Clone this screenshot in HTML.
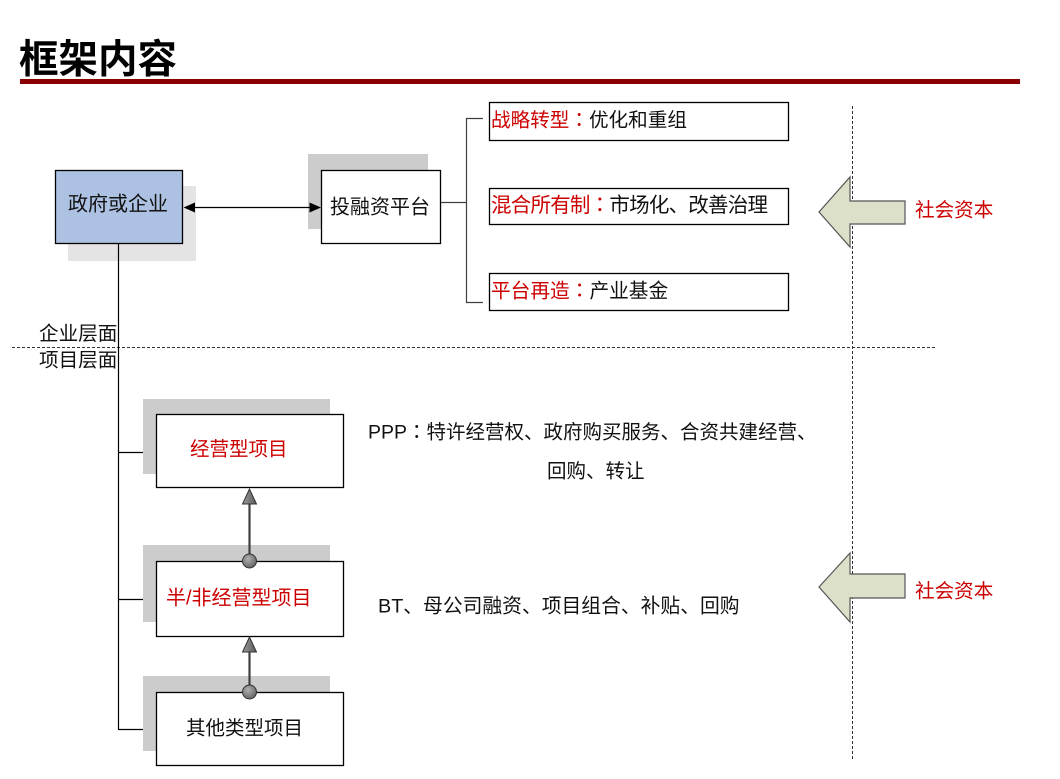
<!DOCTYPE html>
<html>
<head>
<meta charset="utf-8">
<style>
  html, body { margin: 0; padding: 0; background: #ffffff; }
  body { width: 1060px; height: 779px; overflow: hidden; }
  svg { display: block; }
  text { font-family: "Liberation Sans", "Noto Sans CJK SC", "WenQuanYi Zen Hei", sans-serif; }
  .cc { font-family: "Noto Sans CJK JP", "Noto Sans CJK TC", sans-serif; }
</style>
</head>
<body>
<svg width="1060" height="779" viewBox="0 0 1060 779" xmlns="http://www.w3.org/2000/svg">
  <defs>
    <linearGradient id="gh" x1="0" y1="0" x2="1" y2="0">
      <stop offset="0" stop-color="#9a9a9a"/>
      <stop offset="1" stop-color="#5a5a5a"/>
    </linearGradient>
    <radialGradient id="gc" cx="0.4" cy="0.35" r="0.7">
      <stop offset="0" stop-color="#b0b0b0"/>
      <stop offset="1" stop-color="#606060"/>
    </radialGradient>
  </defs>

  <!-- Title -->
  <text x="19" y="73" font-size="39.5" font-weight="bold" fill="#000">框架内容</text>
  <rect x="20" y="79" width="1000" height="5" fill="#8b0000"/>

  <!-- Top left box: 政府或企业 -->
  <rect x="68" y="186" width="128" height="75" fill="#e4e4e4"/>
  <rect x="55.5" y="170.5" width="127" height="73" fill="#adc2e2" stroke="#000" stroke-width="1.3"/>
  <text x="68" y="210.6" font-size="20" fill="#111">政府或企业</text>

  <!-- 投融资平台 -->
  <rect x="308" y="154" width="120" height="75" fill="#cccccc"/>
  <rect x="321.5" y="170.5" width="119" height="73" fill="#ffffff" stroke="#000" stroke-width="1.3"/>
  <text x="330" y="213.6" font-size="20" fill="#111">投融资平台</text>

  <!-- Double arrow -->
  <line x1="194" y1="207.5" x2="310" y2="207.5" stroke="#000" stroke-width="1.2"/>
  <polygon points="183.5,207.5 195,202.5 195,212.5" fill="#000"/>
  <polygon points="321,207.5 309.5,202.5 309.5,212.5" fill="#000"/>

  <!-- Bracket -->
  <path d="M441 202.5 H466.5 M483 118.5 H466.5 V302.5 H483" fill="none" stroke="#404040" stroke-width="1.2"/>

  <!-- Right boxes -->
  <rect x="489.5" y="102.5" width="299" height="38" fill="#fff" stroke="#000" stroke-width="1.3"/>
  <text x="491" y="126.6" font-size="19.6"><tspan fill="#cc0000">战略转型</tspan><tspan class="cc" fill="#cc0000">：</tspan><tspan fill="#111">优化和重组</tspan></text>

  <rect x="489.5" y="188.5" width="299" height="36" fill="#fff" stroke="#000" stroke-width="1.3"/>
  <text x="491" y="212" font-size="20.5" textLength="277" lengthAdjust="spacing"><tspan fill="#cc0000">混合所有制</tspan><tspan class="cc" fill="#cc0000">：</tspan><tspan fill="#111">市场化、改善治理</tspan></text>

  <rect x="489.5" y="273.5" width="299" height="37" fill="#fff" stroke="#000" stroke-width="1.3"/>
  <text x="491" y="297.6" font-size="19.7"><tspan fill="#cc0000">平台再造</tspan><tspan class="cc" fill="#cc0000">：</tspan><tspan fill="#111">产业基金</tspan></text>

  <!-- Dashed separators -->
  <line x1="12" y1="347.5" x2="935" y2="347.5" stroke="#333" stroke-width="1" stroke-dasharray="3,2"/>
  <line x1="852.5" y1="106" x2="852.5" y2="759" stroke="#333" stroke-width="1" stroke-dasharray="3,2"/>

  <!-- Big arrows 社会资本 -->
  <polygon points="819,212 850,177 850,201 905,201 905,224 850,224 850,247" fill="#dde0c9" stroke="#555" stroke-width="1.2"/>
  <text x="915" y="216.6" font-size="19.6" fill="#cc0000">社会资本</text>
  <polygon points="819,587 850,553 850,574 905,574 905,598 850,598 850,622" fill="#dde0c9" stroke="#555" stroke-width="1.2"/>
  <text x="915" y="597.6" font-size="19.6" fill="#cc0000">社会资本</text>

  <!-- Layer labels -->
  <text x="39" y="340" font-size="19.6" fill="#111">企业层面</text>
  <text x="39" y="366.6" font-size="19.6" fill="#111">项目层面</text>

  <!-- Vertical trunk -->
  <line x1="118.5" y1="244" x2="118.5" y2="729.5" stroke="#000" stroke-width="1.2"/>
  <line x1="118" y1="452.5" x2="149" y2="452.5" stroke="#000" stroke-width="1.2"/>
  <polygon points="156,452.5 148,448 148,457" fill="#000"/>
  <line x1="118" y1="599.5" x2="149" y2="599.5" stroke="#000" stroke-width="1.2"/>
  <polygon points="156,599.5 148,595 148,604" fill="#000"/>
  <line x1="118" y1="729.5" x2="149" y2="729.5" stroke="#000" stroke-width="1.2"/>
  <polygon points="156,729.5 148,725 148,734" fill="#000"/>

  <!-- Project boxes -->
  <rect x="143" y="399" width="187" height="75" fill="#cccccc"/>
  <rect x="156.5" y="414.5" width="187" height="73" fill="#fff" stroke="#000" stroke-width="1.3"/>
  <text x="190" y="455.6" font-size="19.5" fill="#cc0000">经营型项目</text>

  <rect x="143" y="545" width="187" height="77" fill="#cccccc"/>
  <rect x="156.5" y="561.5" width="187" height="75" fill="#fff" stroke="#000" stroke-width="1.3"/>
  <text x="166" y="604.6" font-size="20" fill="#cc0000">半/非经营型项目</text>

  <rect x="143" y="676" width="187" height="75" fill="#cccccc"/>
  <rect x="156.5" y="692.5" width="187" height="73" fill="#fff" stroke="#000" stroke-width="1.3"/>
  <text x="186" y="734.6" font-size="19.5" fill="#111">其他类型项目</text>

  <!-- Vertical connectors between project boxes -->
  <line x1="249.5" y1="561" x2="249.5" y2="503" stroke="#404040" stroke-width="2.2"/>
  <polygon points="249.5,489 242.5,504 256.5,504" fill="url(#gh)" stroke="#333" stroke-width="1"/>
  <circle cx="249.5" cy="561" r="7" fill="url(#gc)" stroke="#333" stroke-width="1"/>

  <line x1="249.5" y1="692" x2="249.5" y2="651" stroke="#404040" stroke-width="2.2"/>
  <polygon points="249.5,637 242.5,652 256.5,652" fill="url(#gh)" stroke="#333" stroke-width="1"/>
  <circle cx="249.5" cy="692" r="7" fill="url(#gc)" stroke="#333" stroke-width="1"/>

  <!-- Descriptions -->
  <text x="368" y="438.4" font-size="19.5" fill="#111">PPP<tspan class="cc">：</tspan>特许经营权、政府购买服务、合资共建经营、</text>
  <text x="547" y="477.4" font-size="19.5" fill="#111">回购、转让</text>
  <text x="378" y="612.6" font-size="19.8" fill="#111">BT、母公司融资、项目组合、补贴、回购</text>
</svg>
</body>
</html>
